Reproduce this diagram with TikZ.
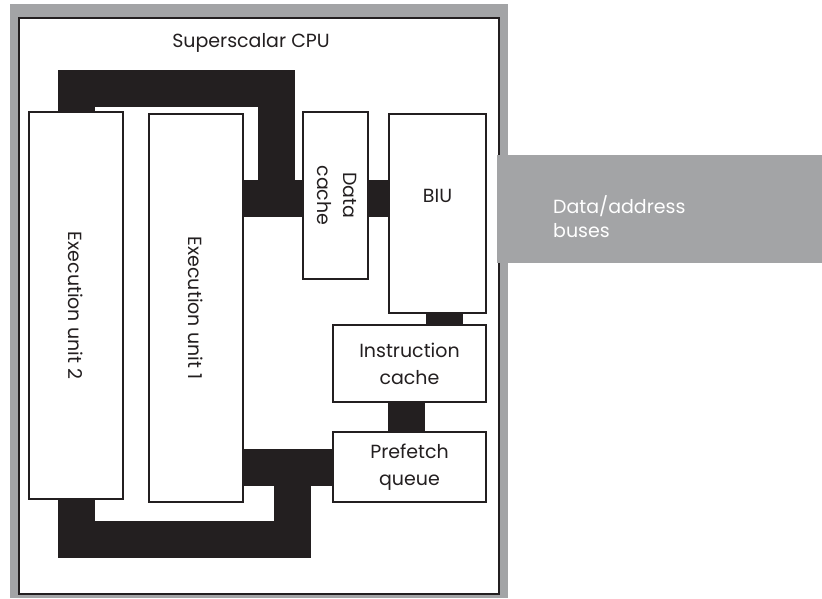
\documentclass[tikz,border=0pt]{standalone}
\usepackage{fontspec}
\setmainfont{Poppins}
\usetikzlibrary{positioning}
\definecolor{ink}{RGB}{35,31,32}
\definecolor{grey}{RGB}{163,164,166}

\begin{document}
\begin{tikzpicture}[x=1pt,y=-1pt,
  label/.style={text=ink,font=\fontsize{19}{27}\selectfont,align=center,inner sep=0pt},
  unit/.style={draw=ink,line width=2pt,fill=white,inner sep=0pt,label},
  bus/.style={draw=ink,line width=37pt,line join=miter}]
\useasboundingbox (0,0) rectangle (822,598);
\fill[grey] (10,3.5) rectangle (507.5,598);
\node[draw=ink,line width=2pt,fill=white,minimum width=480pt,minimum height=576.5pt] (cpu) at (258.5,305.75) {};
\node[fill=grey,minimum width=325pt,minimum height=108pt,anchor=west] (ext) at (497,209) {};
\node[label,text=white,anchor=west,align=left,font=\fontsize{19}{24}\selectfont] (extlabel) at (553,217) {Data/address\\buses};
\node[label] (title) at (251,43) {Superscalar CPU};
\node[unit,minimum width=94pt,minimum height=387pt] (eu2) at (76,305.5) {\rotatebox{-90}{Execution unit 2}};
\node[unit,minimum width=94pt,minimum height=388pt] (eu1) at (196,308) {\rotatebox{-90}{Execution unit 1}};
\node[unit,minimum width=65pt,minimum height=167pt] (dcache) at (335.5,195.5) {\rotatebox{-90}{\begin{tabular}{@{}c@{}}Data\\[-1pt]cache\end{tabular}}};
\node[unit,minimum width=97pt,minimum height=199pt] (biu) at (437.5,213) {};
\node[label] (biulabel) at ([yshift=-83pt]biu.north) {BIU};
\node[unit,minimum width=153pt,minimum height=77pt] (icache) at (409.5,363.5) {Instruction\\cache};
\node[unit,minimum width=153pt,minimum height=70pt] (pfq) at (409.5,467) {Prefetch\\queue};
\coordinate (dbus) at (0,198.5);
\coordinate (topright) at (276.5,88.5);
\coordinate (botright) at (292.5,539.5);
\draw[bus] (eu2.north) |- (topright) -- (topright |- dbus);
\draw[bus] (eu1.east |- dbus) -- (dcache.west |- dbus);
\draw[bus] (dcache.east |- dbus) -- (biu.west |- dbus);
\draw[bus] (444,0 |- biu.south) -- (444,0 |- icache.north);
\draw[bus] (406.5,0 |- icache.south) -- (406.5,0 |- pfq.north);
\draw[bus] (eu1.east |- pfq.west) -- (pfq.west);
\draw[bus] (eu2.south) |- (botright) -- (botright |- pfq.west);
\end{tikzpicture}
\end{document}
